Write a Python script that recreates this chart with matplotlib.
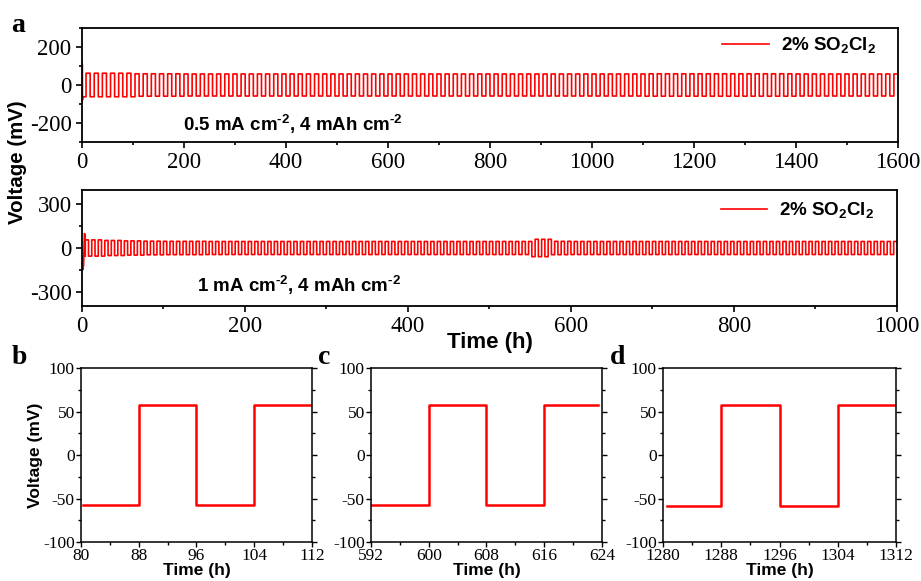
import numpy as np
import matplotlib
matplotlib.use("Agg")
import matplotlib.pyplot as plt
from matplotlib.ticker import MultipleLocator

# === DATA ===
# panel a (top): 0.5 mA cm-2, 4 mAh cm-2 -> 8 h per half cycle, 1600 h
a_half_h = 8
a_end_h = 1600
a_block_h = 100
a_plateau_mv = [62, 59, 58, 58, 58, 58, 58, 58, 58, 58, 58, 59, 59, 59, 58, 58]  # per 100 h block
a_spike_t = [0.0, 0.3, 0.6, 1.0]
a_spike_v = [120, -90, 110, -80]

# panel a (middle): 1 mA cm-2, 4 mAh cm-2 -> 4 h per half cycle, 1000 h
m_half_h = 4
m_end_h = 1000
m_block_h = 25
m_plateau_mv = [56, 52, 49, 47, 46, 46, 45, 45, 45, 45,
                45, 45, 45, 45, 45, 45, 45, 45, 45, 45,
                45, 45, 60, 46, 45, 45, 45, 45, 45, 45,
                45, 45, 45, 45, 45, 45, 45, 45, 45, 45]  # per 25 h block
m_spike_t = [0.0, 1.0, 2.0, 3.0, 4.0]
m_spike_v = [-60, -150, -120, 100, 90]

# zoomed panels b, c, d
b_t = [80.3, 88.0, 88.0, 96.0, 96.0, 104.0, 104.0, 112.0]
b_v = [-58, -58, 57, 57, -57, -57, 57, 57]
c_t = [592.0, 600.0, 600.0, 608.0, 608.0, 616.0, 616.0, 623.5]
c_v = [-58, -58, 58, 58, -58, -58, 57, 57]
d_t = [1280.5, 1288.0, 1288.0, 1296.0, 1296.0, 1304.0, 1304.0, 1312.0]
d_v = [-59, -59, 58, 58, -59, -59, 58, 58]

RED = "#ff0000"
SERIF = "Liberation Serif"
SANS = "Liberation Sans"


def square_steps(half_h, end_h, block_h, plateau, spike_t, spike_v):
    # galvanostatic steps: negative half first, then positive
    edges = np.arange(0, end_h + half_h, half_h)
    t, v = list(spike_t), list(spike_v)
    for k in range(len(edges) - 1):
        amp = plateau[min(int(edges[k] // block_h), len(plateau) - 1)]
        sign = -1 if k % 2 == 0 else 1
        t += [max(edges[k], spike_t[-1]), edges[k + 1]]
        v += [sign * amp, sign * amp]
    return np.array(t), np.array(v)


plt.rcParams["font.family"] = SERIF
plt.rcParams["axes.unicode_minus"] = False
plt.rcParams["mathtext.fontset"] = "custom"
plt.rcParams["mathtext.bf"] = SANS + ":bold"
plt.rcParams["mathtext.rm"] = SANS + ":bold"

LEG_LABEL = r"2% SO$_\mathbf{2}$Cl$_\mathbf{2}$"
SUP = r"$^{\mathbf{\text{-}2}}$"

fig = plt.figure(figsize=(9.21, 5.81), dpi=100)

ax_top = fig.add_axes([0.0890, 0.7556, 0.8860, 0.1962])
ax_mid = fig.add_axes([0.0890, 0.4733, 0.8849, 0.1997])

t, v = square_steps(a_half_h, a_end_h, a_block_h, a_plateau_mv, a_spike_t, a_spike_v)
ax_top.plot(t, v, color=RED, lw=1.2, label=LEG_LABEL)
ax_top.set_xlim(0, 1600)
ax_top.set_ylim(-300, 300)
ax_top.xaxis.set_major_locator(MultipleLocator(200))
ax_top.xaxis.set_minor_locator(MultipleLocator(100))
ax_top.yaxis.set_major_locator(MultipleLocator(200))
ax_top.yaxis.set_minor_locator(MultipleLocator(100))
ax_top.text(0.124, 0.096, "0.5 mA cm" + SUP + ", 4 mAh cm" + SUP,
            transform=ax_top.transAxes, family=SANS, weight="bold", fontsize=13.5,
            va="baseline")

t, v = square_steps(m_half_h, m_end_h, m_block_h, m_plateau_mv, m_spike_t, m_spike_v)
ax_mid.plot(t, v, color=RED, lw=1.2, label=LEG_LABEL)
ax_mid.set_xlim(0, 1000)
ax_mid.set_ylim(-400, 400)
ax_mid.xaxis.set_major_locator(MultipleLocator(200))
ax_mid.xaxis.set_minor_locator(MultipleLocator(100))
ax_mid.yaxis.set_major_locator(MultipleLocator(300))
ax_mid.yaxis.set_minor_locator(MultipleLocator(150))
ax_mid.text(0.141, 0.12, "1 mA cm" + SUP + ", 4 mAh cm" + SUP,
            transform=ax_mid.transAxes, family=SANS, weight="bold", fontsize=13.5,
            va="baseline")

for ax, anchor in ((ax_top, (0.982, 1.0)), (ax_mid, (0.981, 0.976))):
    ax.tick_params(which="both", direction="out", labelsize=16.5, width=1.2)
    ax.tick_params(which="major", length=4)
    ax.tick_params(which="minor", length=2.5)
    for s in ax.spines.values():
        s.set_linewidth(1.3)
    ax.legend(loc="upper right", bbox_to_anchor=anchor, frameon=False,
              handlelength=2.5, handletextpad=0.6,
              prop={"family": SANS, "weight": "bold", "size": 13.5},
              borderaxespad=0)

ax_mid.set_xlabel("Time (h)", family=SANS, weight="bold", fontsize=16, labelpad=-4)
fig.text(0.019, 0.72, "Voltage (mV)", rotation=90, ha="center", va="center",
         family=SANS, weight="bold", fontsize=14.8)

# bottom zoomed panels
zooms = [
    ([0.0879, 0.0671, 0.2508, 0.2995], b_t, b_v, 80, "b", 0.013),
    ([0.4028, 0.0671, 0.2508, 0.2995], c_t, c_v, 592, "c", 0.345),
    ([0.7199, 0.0671, 0.2530, 0.2995], d_t, d_v, 1280, "d", 0.662),
]
for rect, tt, vv, x0, letter, lx in zooms:
    ax = fig.add_axes(rect)
    ax.plot(tt, vv, color=RED, lw=1.8)
    ax.set_xlim(x0, x0 + 32)
    ax.set_ylim(-100, 100)
    ax.xaxis.set_major_locator(MultipleLocator(8))
    ax.xaxis.set_minor_locator(MultipleLocator(4))
    ax.yaxis.set_major_locator(MultipleLocator(50))
    ax.yaxis.set_minor_locator(MultipleLocator(25))
    ax.tick_params(which="both", direction="out", labelsize=12.5, width=1.0,
                   right=True, pad=1)
    ax.tick_params(which="major", length=3.5)
    ax.tick_params(which="minor", length=2)
    for s in ax.spines.values():
        s.set_linewidth(1.1)
    ax.set_xlabel("Time (h)", family=SANS, weight="bold", fontsize=12.5, labelpad=-1)
    if letter == "b":
        ax.set_ylabel("Voltage (mV)", family=SANS, weight="bold", fontsize=12.5,
                      labelpad=0)
    fig.text(lx, 0.373, letter, family=SERIF, weight="bold", fontsize=20,
             va="baseline")

fig.text(0.012, 0.945, "a", family=SERIF, weight="bold", fontsize=20, va="baseline")

fig.savefig("out.png", dpi=100)
